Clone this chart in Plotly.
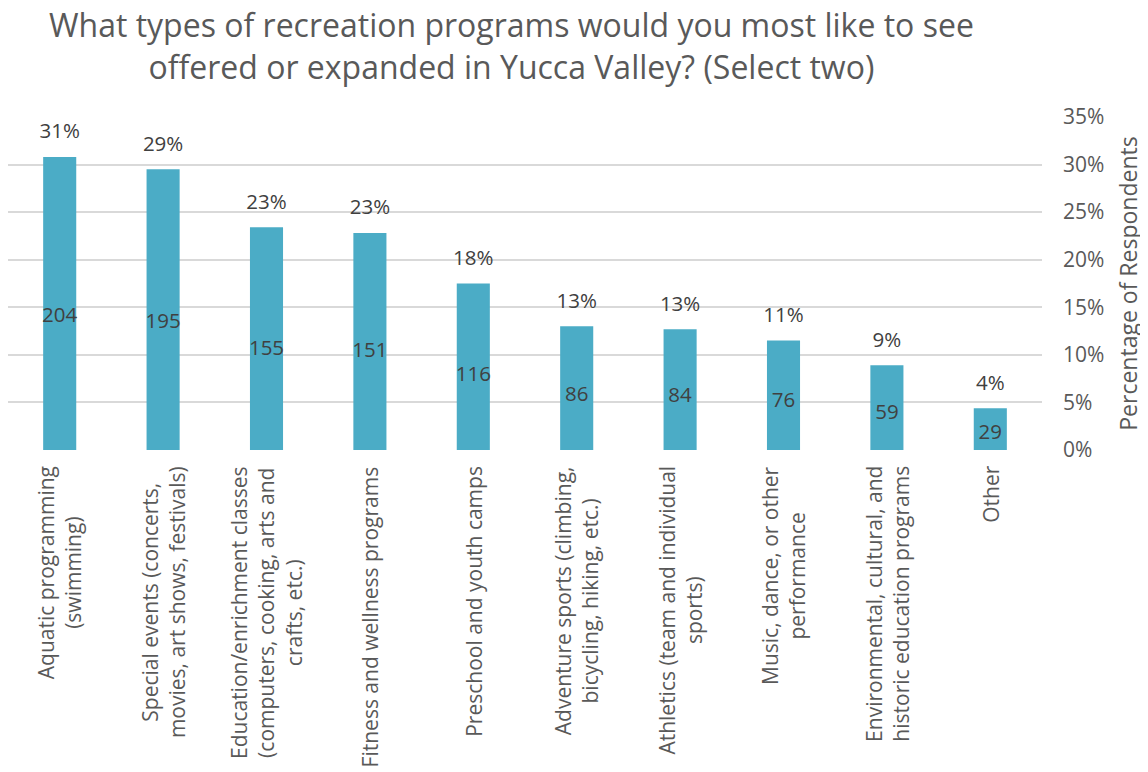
import plotly.graph_objects as go

categories = [
    "Aquatic programming<br>(swimming)",
    "Special events (concerts,<br>movies, art shows, festivals)",
    "Education/enrichment classes<br>(computers, cooking, arts and<br>crafts, etc.)",
    "Fitness and wellness programs",
    "Preschool and youth camps",
    "Adventure sports (climbing,<br>bicycling, hiking, etc.)",
    "Athletics (team and individual<br>sports)",
    "Music, dance, or other<br>performance",
    "Environmental, cultural, and<br>historic education programs",
    "Other",
]
counts = [204, 195, 155, 151, 116, 86, 84, 76, 59, 29]
percent = [0.308, 0.295, 0.234, 0.228, 0.175, 0.130, 0.127, 0.115, 0.089, 0.044]
percent_labels = ["31%", "29%", "23%", "23%", "18%", "13%", "13%", "11%", "9%", "4%"]
pct_ticks = [0, 0.05, 0.10, 0.15, 0.20, 0.25, 0.30, 0.35]
pct_tick_text = ["0%", "5%", "10%", "15%", "20%", "25%", "30%", "35%"]

FONT = "Open Sans, Noto Sans, sans-serif"
GREY = "#595959"
DARK = "#404040"
BAR = "#4BACC6"

x_idx = list(range(len(categories)))

fig = go.Figure()
fig.add_trace(go.Bar(
    x=x_idx, y=percent, yaxis="y", width=0.32,
    marker=dict(color=BAR, line=dict(width=0)),
    showlegend=False, hoverinfo="skip",
))
fig.add_trace(go.Scatter(
    x=x_idx, y=percent, yaxis="y", mode="markers+text",
    marker=dict(size=20, color="rgba(0,0,0,0)"),
    text=percent_labels, textposition="top center", cliponaxis=False,
    textfont=dict(family=FONT, size=20.5, color=DARK),
    showlegend=False, hoverinfo="skip",
))
fig.add_trace(go.Bar(
    x=x_idx, y=counts, yaxis="y2", width=0.32,
    marker=dict(color="rgba(0,0,0,0)", line=dict(width=0)),
    text=[str(c) for c in counts], textposition="inside", insidetextanchor="middle",
    textangle=0, textfont=dict(family=FONT, size=20.5, color=DARK),
    constraintext="none", showlegend=False, hoverinfo="skip",
))

for i, cat in enumerate(categories):
    fig.add_annotation(
        x=i, xref="x", y=0, yref="paper", yanchor="top", xanchor="center",
        yshift=-14, text=cat, textangle=-90, align="center", showarrow=False,
        font=dict(family=FONT, size=21, color=GREY),
    )

# chart title
fig.add_annotation(
    x=0.4874, xref="paper", y=1, yref="paper", xanchor="center", yanchor="middle",
    yshift=72, showarrow=False, align="center", borderpad=0,
    text="What types of recreation programs would you most like to see<br>offered or expanded in Yucca Valley? (Select two)",
    font=dict(family=FONT, size=32, color=GREY),
)

fig.update_layout(
    width=1140, height=764,
    margin=dict(l=0, r=106, t=109, b=322),
    paper_bgcolor="white", plot_bgcolor="white",
    barmode="overlay",
    xaxis=dict(
        range=[-0.5, len(categories) - 0.5], showticklabels=False, ticks="",
        showgrid=False, zeroline=False, showline=False,
    ),
    yaxis=dict(
        side="right", range=[0, 0.35], tickvals=pct_ticks, ticktext=pct_tick_text,
        showgrid=True, gridcolor="#D9D9D9", gridwidth=1.5, zeroline=False,
        showline=False, ticks="", ticklabelstandoff=20,
        tickfont=dict(family=FONT, size=21, color=GREY),
        title=dict(text="Percentage of Respondents", standoff=17,
                   font=dict(family=FONT, size=23, color=GREY)),
    ),
    yaxis2=dict(
        overlaying="y", side="left", range=[0, 250], visible=False,
    ),
)

fig.write_html("out.html")
